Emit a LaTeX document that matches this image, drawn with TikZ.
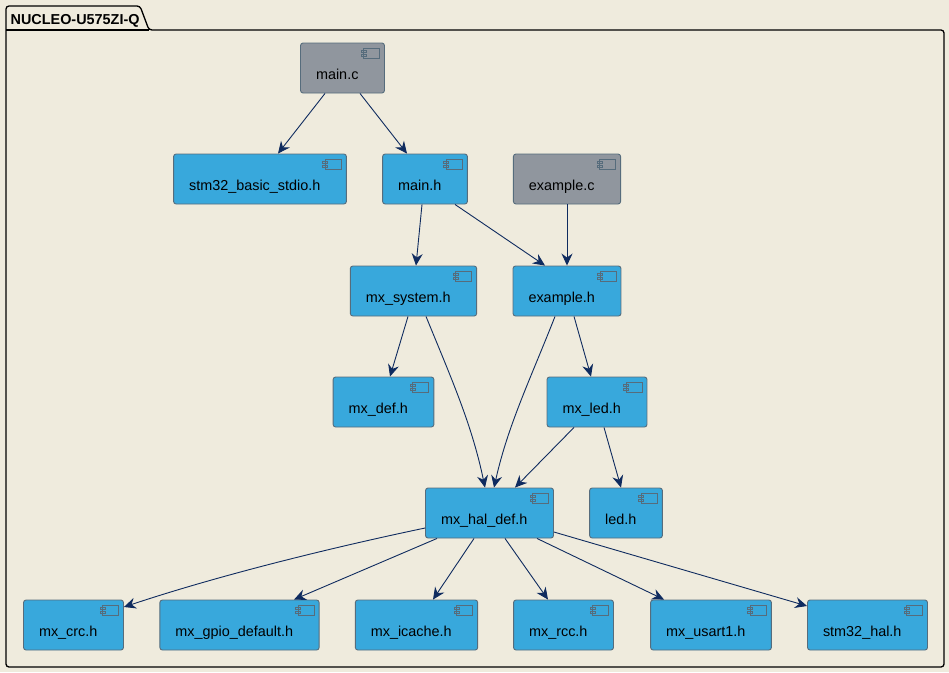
\documentclass[tikz,border=0pt]{standalone}
\usepackage{fontspec}
\setmainfont{Liberation Sans}
\usetikzlibrary{arrows.meta, calc}
\definecolor{pagebg}{HTML}{EFEBDD}
\definecolor{headblue}{HTML}{38A8DC}
\definecolor{srcgrey}{HTML}{90969E}
\definecolor{linkblue}{HTML}{0F2B5F}
\definecolor{boxline}{HTML}{566C7C}

\begin{document}
\begin{tikzpicture}[x=1pt,y=-1pt,font=\fontsize{14.4}{16}\selectfont]
\tikzstyle{comp}=[draw=boxline,line width=0.9pt,rounded corners=2.5pt,inner xsep=15.5pt,inner ysep=0pt,text height=36.7pt,text depth=13.3pt,text=black,execute at end node={\hspace*{10.5pt}}]
\tikzstyle{header}=[comp,fill=headblue]
\tikzstyle{source}=[comp,fill=srcgrey]
\tikzstyle{link}=[-{Stealth[length=12pt,width=11pt,inset=4pt]},draw=linkblue,line width=0.9pt]
\tikzstyle{icon}=[draw=boxline,line width=0.8pt]

\fill[pagebg] (0,0) rectangle (949,672);
\useasboundingbox (0,0) rectangle (949,672);

\draw[black,line width=1.3pt,rounded corners=3pt] (6,30) -- (6,6) -- (140,6) -- (149,30) -- (944,30) -- (944,667) -- (6,667) -- cycle;
\draw[black,line width=1.3pt] (6,30) -- (149,30);
\node[anchor=base west,inner sep=0pt,font=\fontsize{14.4}{16}\selectfont\bfseries] (pkgtitle) at (10.5,24) {NUCLEO-U575ZI-Q};

\node[source] (mainc) at (342.5,68) {main.c};
\node[header] (stdio) at (260,179) {stm32\_basic\_stdio.h};
\node[header] (mainh) at (425,179) {main.h};
\node[source] (examplec) at (567,179) {example.c};
\node[header] (system) at (413.5,291) {mx\_system.h};
\node[header] (exampleh) at (567,291) {example.h};
\node[header] (mxdef) at (383.5,402) {mx\_def.h};
\node[header] (mxled) at (597,402) {mx\_led.h};
\node[header] (haldef) at (489.5,513) {mx\_hal\_def.h};
\node[header] (ledh) at (626,513) {led.h};
\node[header] (crc) at (73.5,625) {mx\_crc.h};
\node[header] (gpio) at (239.5,625) {mx\_gpio\_default.h};
\node[header] (icache) at (416.5,625) {mx\_icache.h};
\node[header] (rcc) at (563.5,625) {mx\_rcc.h};
\node[header] (usart) at (711,625) {mx\_usart1.h};
\node[header] (stmhal) at (867.5,625) {stm32\_hal.h};

\foreach \n in {mainc,stdio,mainh,examplec,system,exampleh,mxdef,mxled,haldef,ledh,crc,gpio,icache,rcc,usart,stmhal} {
  \draw[icon] ([shift={(-21.5pt,-5.5pt)}]\n.north east) rectangle ([shift={(-5.5pt,-16pt)}]\n.north east);
  \draw[icon] ([shift={(-24pt,-7.5pt)}]\n.north east) rectangle ([shift={(-19pt,-10pt)}]\n.north east);
  \draw[icon] ([shift={(-24pt,-11.5pt)}]\n.north east) rectangle ([shift={(-19pt,-14pt)}]\n.north east);
}

\draw[link] ([xshift=-17.5pt]mainc.south) -- ([xshift=18pt]stdio.north);
\draw[link] ([xshift=17.5pt]mainc.south) -- ([xshift=-18pt]mainh.north);
\draw[link] ([xshift=-3pt]mainh.south) -- ([xshift=2.5pt]system.north);
\draw[link] ([xshift=30pt]mainh.south) -- ([xshift=-22pt]exampleh.north);
\draw[link] (examplec.south) -- (exampleh.north);
\draw[link] ([xshift=-5.5pt]system.south) -- ([xshift=6.5pt]mxdef.north);
\draw[link] ([xshift=12.5pt]system.south) .. controls (452,380) and (472,425) .. ([xshift=-4.5pt]haldef.north);
\draw[link] ([xshift=-12pt]exampleh.south) .. controls (530,380) and (508,425) .. ([xshift=4.5pt]haldef.north);
\draw[link] ([xshift=7pt]exampleh.south) -- ([xshift=-6pt]mxled.north);
\draw[link] ([xshift=-23pt]mxled.south) -- ([xshift=25.5pt]haldef.north);
\draw[link] ([xshift=7pt]mxled.south) -- ([xshift=-5pt]ledh.north);
\draw[link] ([yshift=-15pt]haldef.west) .. controls (330,548) and (220,575) .. ([yshift=18pt]crc.east);
\draw[link] ([xshift=-52.5pt]haldef.south) -- ([xshift=54.5pt]gpio.north);
\draw[link] ([xshift=-15.5pt]haldef.south) -- ([xshift=16.5pt]icache.north);
\draw[link] ([xshift=15.5pt]haldef.south) -- ([xshift=-15.5pt]rcc.north);
\draw[link] ([xshift=47.5pt]haldef.south) -- ([xshift=-47pt]usart.north);
\draw[link] ([yshift=-19pt]haldef.east) -- ([yshift=19pt]stmhal.west);
\end{tikzpicture}
\end{document}
